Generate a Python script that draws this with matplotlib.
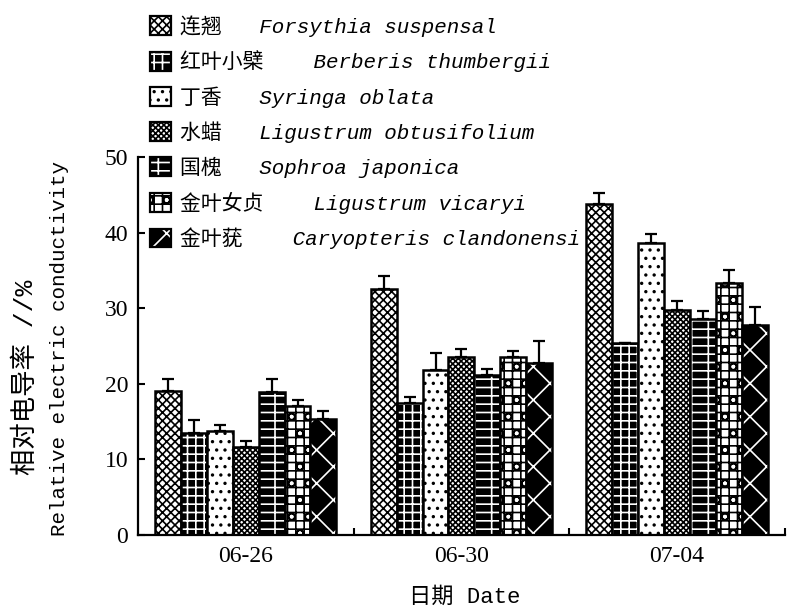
import numpy as np
import matplotlib
matplotlib.use("Agg")
import matplotlib.pyplot as plt
from matplotlib.patches import Patch

dates = ['06-26', '06-30', '07-04']
species = ['连翘   Forsythia suspensal',
           '红叶小檗    Berberis thumbergii',
           '丁香   Syringa oblata',
           '水蜡   Ligustrum obtusifolium',
           '国槐   Sophroa japonica',
           '金叶女贞    Ligustrum vicaryi',
           '金叶莸    Caryopteris clandonensi']

forsythia = [19.1, 32.6, 43.8]
berberis = [13.5, 17.4, 25.4]
syringa = [13.8, 21.8, 38.6]
lig_obt = [11.7, 23.5, 29.7]
sophora = [18.9, 21.2, 28.6]
lig_vic = [17.0, 23.5, 33.3]
caryopteris = [15.3, 22.8, 27.8]

forsythia_err = [1.5, 1.6, 1.5]
berberis_err = [1.7, 0.8, 0.0]
syringa_err = [0.7, 2.3, 1.2]
lig_obt_err = [0.7, 1.1, 1.2]
sophora_err = [1.7, 0.8, 1.0]
lig_vic_err = [0.8, 0.8, 1.7]
caryopteris_err = [1.1, 2.9, 2.3]

means = [forsythia, berberis, syringa, lig_obt, sophora, lig_vic, caryopteris]
errs = [forsythia_err, berberis_err, syringa_err, lig_obt_err,
        sophora_err, lig_vic_err, caryopteris_err]

# (face colour, hatch colour, hatch)
styles = [('white', 'black', 'xxxx'),
          ('black', 'white', '++'),
          ('white', 'black', '..'),
          ('white', 'black', 'xxxxxx'),
          ('black', 'white', '-+'),
          ('white', 'black', '++o'),
          ('black', 'white', 'x')]

plt.rcParams['hatch.linewidth'] = 1.2
mono = ['Liberation Mono', 'Noto Sans CJK SC']

fig = plt.figure(figsize=(8, 6.11), dpi=100)
ax = fig.add_axes([0.1725, 0.1244, 0.8085, 0.6186])

x = np.arange(1, len(dates) + 1)
w = 0.12
handles = []
for i in range(len(means)):
    fc, hc, h = styles[i]
    pos = x + (i - 3) * w
    ax.bar(pos, means[i], w, color=fc, edgecolor=hc, hatch=h, linewidth=0)
    ax.bar(pos, means[i], w, fill=False, edgecolor='black', linewidth=1.8)
    ax.errorbar(pos, means[i], yerr=[np.zeros(3), errs[i]], fmt='none',
                ecolor='black', elinewidth=1.6, capsize=4.5, capthick=1.6)
    handles.append((Patch(facecolor=fc, edgecolor=hc, hatch=h, linewidth=0),
                    Patch(fill=False, edgecolor='black', linewidth=1.6)))

ax.set_xlim(0.5, 3.5)
ax.set_ylim(0, 50)
ax.set_yticks([0, 10, 20, 30, 40, 50])
ax.set_xticks(x)
ax.set_xticklabels(dates)
ax.set_xticks([1.5, 2.5, 3.5], minor=True)
ax.tick_params(axis='x', which='major', length=0, pad=8)
ax.tick_params(axis='x', which='minor', direction='in', length=5, width=1.5)
ax.tick_params(axis='y', direction='in', length=5, width=1.5, pad=7)
for lab in ax.get_xticklabels() + ax.get_yticklabels():
    lab.set_fontfamily('Liberation Serif')
    lab.set_fontsize(17)

for s in ['top', 'right']:
    ax.spines[s].set_visible(False)
for s in ['left', 'bottom']:
    ax.spines[s].set_linewidth(1.6)

fig.text(0.581, 1 - 597 / 611, '日期 Date', family=mono, fontsize=16,
         ha='center', va='center')
fig.text(26 / 800, 1 - 377 / 611, '相对电导率 //%', family=mono, fontsize=19,
         rotation=90, ha='center', va='center')
fig.text(60 / 800, 1 - 348 / 611, 'Relative electric conductivity',
         family=mono, fontsize=15, rotation=90, ha='center', va='center')

fig.legend(handles, species, loc='upper left',
           bbox_to_anchor=(150 / 800, 1 - 15 / 611), frameon=False,
           prop={'family': mono, 'size': 15, 'style': 'italic'},
           handlelength=1.0, handleheight=1.0, handletextpad=0.45,
           labelspacing=0.66, borderpad=0, borderaxespad=0)

fig.savefig('out.png', dpi=100)
